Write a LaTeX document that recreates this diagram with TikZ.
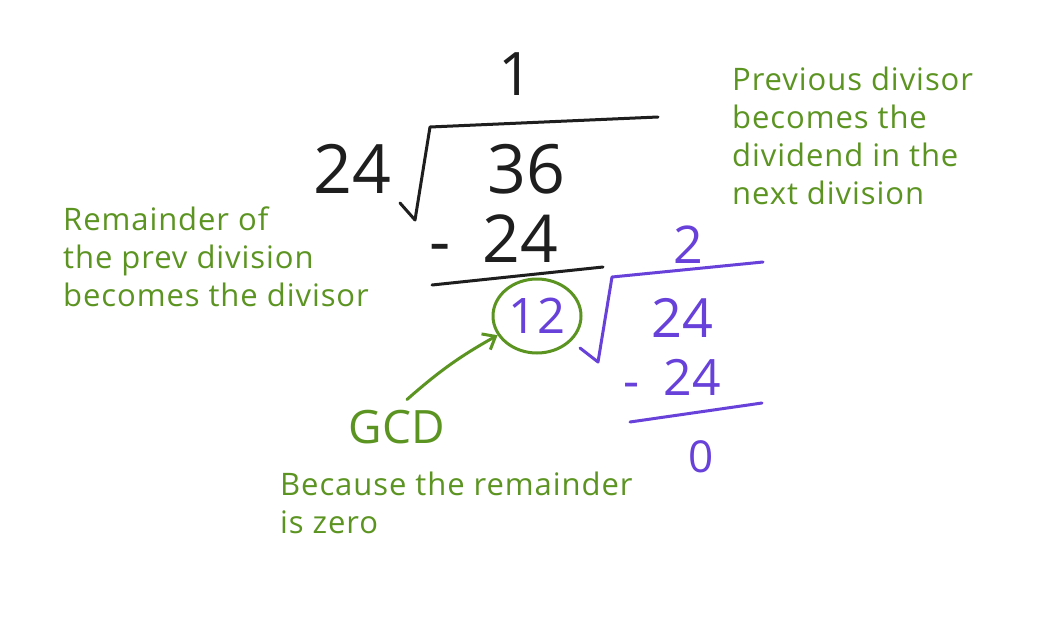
\documentclass[tikz,border=0pt]{standalone}
\usepackage{fontspec}
\setmainfont{Open Sans}
\newfontfamily\notefont[LetterSpace=3]{Open Sans}
\usetikzlibrary{shapes.geometric,arrows.meta}
\definecolor{inkblack}{RGB}{30,30,30}
\definecolor{inkgreen}{RGB}{92,148,34}
\definecolor{inkpurple}{RGB}{103,65,217}
\tikzset{
  note/.style={text=inkgreen, anchor=north west, inner sep=0pt, align=left, font=\notefont\fontsize{31}{38}\selectfont},
  digit/.style={anchor=base, inner sep=0pt},
  blackdig/.style={digit, text=inkblack},
  purpdig/.style={digit, text=inkpurple},
  pen/.style={line width=3pt, line cap=round, line join=round},
}
\begin{document}
\begin{tikzpicture}[x=1pt,y=-1pt]
\useasboundingbox[fill=white] (0,0) rectangle (1062,640);
% --- first division (black) ---
\node[blackdig, font=\fontsize{60}{60}\selectfont] (q1) at (516,95) {1};
\node[blackdig, font=\fontsize{68}{68}\selectfont] (d1) at (352,193) {24};
\node[blackdig, font=\fontsize{68}{68}\selectfont] (n1) at (526,193) {36};
\node[blackdig, font=\fontsize{66}{66}\selectfont] (m1) at (440,264) {-};
\node[blackdig, font=\fontsize{66}{66}\selectfont] (s1) at (520,262) {24};
\coordinate (b1a) at (400,203);
\coordinate (b1b) at (415,220);
\coordinate (b1c) at (430,127);
\coordinate (b1d) at (658,117);
\draw[pen, inkblack] (b1a) -- (b1b) -- (b1c) -- (b1d);
\coordinate (u1a) at (432,285);
\coordinate (u1b) at (603,267);
\draw[pen, inkblack] (u1a) -- (u1b);
% --- second division (purple) ---
\node[purpdig, font=\fontsize{52}{52}\selectfont] (q2) at (688,263) {2};
\node[ellipse, draw=inkgreen, line width=3pt, text=inkpurple, inner sep=0pt,
      minimum width=88pt, minimum height=74pt, font=\fontsize{49}{49}\selectfont] (circ) at (537,316) {12};
\node[purpdig, font=\fontsize{54}{54}\selectfont] (n2) at (682,337) {24};
\node[purpdig, font=\fontsize{50}{50}\selectfont] (m2) at (632,398) {-};
\node[purpdig, font=\fontsize{50}{50}\selectfont] (s2) at (692,395) {24};
\node[purpdig, font=\fontsize{44}{44}\selectfont] (r2) at (701,472) {0};
\coordinate (b2a) at (580,348);
\coordinate (b2b) at (598,362);
\coordinate (b2c) at (612,277);
\coordinate (b2d) at (763,262);
\draw[pen, inkpurple] (b2a) -- (b2b) -- (b2c) -- (b2d);
\coordinate (u2a) at (630,422);
\coordinate (u2b) at (762,403);
\draw[pen, inkpurple] (u2a) -- (u2b);
% --- notes (green) ---
\node[note] (left) at (63,207) {Remainder of\\the prev division\\becomes the divisor};
\node[note] (right) at (732,67) {Previous divisor\\becomes the\\dividend in the\\next division};
\node[note] (bottom) at (280,472) {Because the remainder\\is zero};
\node[anchor=base, inner sep=0pt, text=inkgreen, font=\fontsize{46}{46}\selectfont] (gcd) at (397,443) {GCD};
\draw[pen, inkgreen, -{Straight Barb[length=11pt,width=18pt]}]
  ([xshift=10pt,yshift=10pt]gcd.north) to[bend left=6] (circ.206);
\end{tikzpicture}
\end{document}
